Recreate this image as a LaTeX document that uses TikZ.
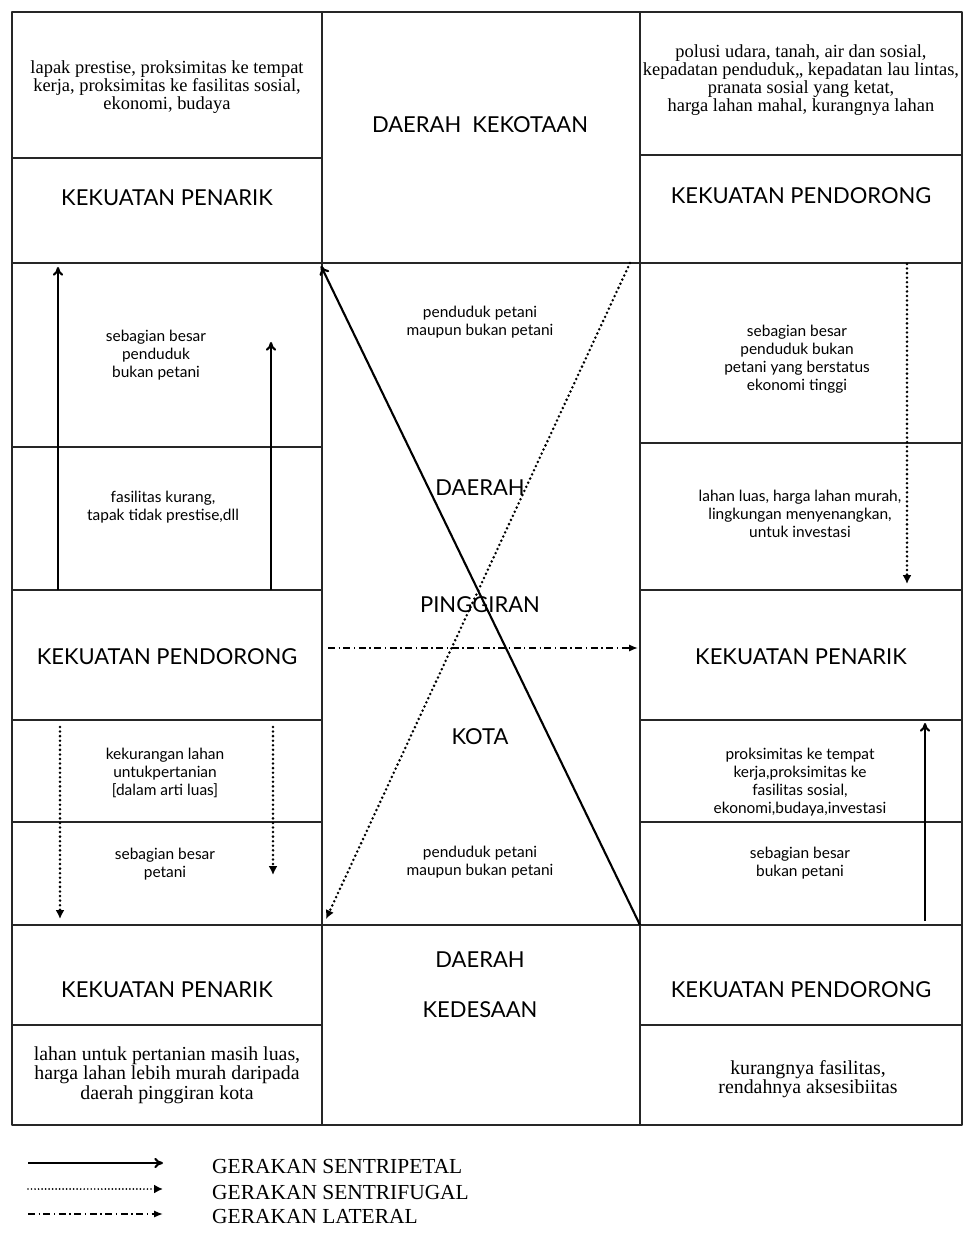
\documentclass[tikz,border=0pt]{standalone}
\usepackage{fontspec}
\setmainfont{Liberation Serif}
\setsansfont{Lato}
\usetikzlibrary{arrows.meta}

\tikzset{
  box/.style={line width=1pt,draw=black!85},
  kop/.style={font=\sffamily\fontsize{12.5}{14}\selectfont,align=center},
  isi/.style={font=\sffamily\fontsize{8.8}{10.2}\selectfont,align=center},
  ket/.style={font=\fontsize{10.5}{10.2}\selectfont,align=center},
  ketbawah/.style={font=\fontsize{11.3}{11}\selectfont,align=center},
  leg/.style={font=\fontsize{12.2}{13}\selectfont,anchor=west},
  sentripetal/.style={line width=1.2pt,-{To[length=5pt,width=6pt]}},
  sentrifugal/.style={line width=1.6pt,dash pattern=on 0pt off 2.6pt,line cap=round,-{Latex[length=5pt,width=5pt]}},
  lateral/.style={line width=0.9pt,dash pattern=on 4pt off 2pt on 0.8pt off 2pt,-{Latex[length=5pt,width=4pt]}}
}

\begin{document}
\begin{tikzpicture}[x=0.02cm,y=-0.02cm,line join=round]
    \useasboundingbox (0,0) rectangle (963,1239);
    % kerangka tabel
    \draw[box] (12,12) rectangle (962,1125);
    \draw[box] (322,12)--(322,1125);
    \draw[box] (640,12)--(640,1125);
    \foreach \y in {158,263,447,590,720,822,925,1025}{%
      \draw[box] (12,\y)--(322,\y);
    }
    \foreach \y in {155,263,443,590,720,822,925,1025}{%
      \draw[box] (640,\y)--(962,\y);
    }
    \draw[box] (322,263)--(640,263);
    \draw[box] (322,925)--(640,925);

    % kolom kiri
    \node[ket] (lapak) at (167,87) {lapak prestise, proksimitas ke tempat\\kerja, proksimitas ke fasilitas sosial,\\ekonomi, budaya};
    \node[kop] (penarikA) at (167,198) {KEKUATAN PENARIK};
    \node[isi] (bukantani) at (156,355) {sebagian besar\\penduduk\\bukan petani};
    \node[isi] (fasilitas) at (163,507) {fasilitas kurang,\\tapak tidak prestise,dll};
    \node[kop] (pendorongA) at (167,657) {KEKUATAN PENDORONG};
    \node[isi] (kurang) at (165,773) {kekurangan lahan\\untukpertanian\\{[}dalam arti luas{]}};
    \node[isi] (petani) at (165,864) {sebagian besar\\petani};
    \node[kop] (penarikB) at (167,990) {KEKUATAN PENARIK};
    \node[ketbawah] (lahan) at (167,1075) {lahan untuk pertanian masih luas,\\harga lahan lebih murah daripada\\daerah pinggiran kota};

    % kolom tengah
    \node[kop] (kekotaan) at (480,125) {DAERAH\enspace KEKOTAAN};
    \node[isi] (campurA) at (480,322) {penduduk petani\\maupun bukan petani};
    \node[kop] (daerah) at (480,488) {DAERAH};
    \node[kop] (pinggiran) at (480,605) {PINGGIRAN};
    \node[kop] (kota) at (480,737) {KOTA};
    \node[isi] (campurB) at (480,862) {penduduk petani\\maupun bukan petani};
    \node[kop] (desaA) at (480,960) {DAERAH};
    \node[kop] (desaB) at (480,1010) {KEDESAAN};

    % kolom kanan
    \node[ket] (polusi) at (801,80) {polusi udara, tanah, air dan sosial,\\kepadatan penduduk,, kepadatan lau lintas,\\pranata sosial yang ketat,\\harga lahan mahal, kurangnya lahan};
    \node[kop] (pendorongB) at (801,196) {KEKUATAN PENDORONG};
    \node[isi] (tinggi) at (797,359) {sebagian besar\\penduduk bukan\\petani yang berstatus\\ekonomi tinggi};
    \node[isi] (luas) at (800,514) {lahan luas, harga lahan murah,\\lingkungan menyenangkan,\\untuk investasi};
    \node[kop] (penarikC) at (801,657) {KEKUATAN PENARIK};
    \node[isi] (proksimitas) at (800,782) {proksimitas ke tempat\\kerja,proksimitas ke\\fasilitas sosial,\\ekonomi,budaya,investasi};
    \node[isi] (bukanpetani) at (800,863) {sebagian besar\\bukan petani};
    \node[kop] (pendorongC) at (801,990) {KEKUATAN PENDORONG};
    \node[ketbawah] (akses) at (808,1079) {kurangnya fasilitas,\\rendahnya aksesibiitas};

    % titik ujung gerakan
    \coordinate (kiriA0) at (58,590);   \coordinate (kiriA1) at (58,267);
    \coordinate (kiriB0) at (271,590);  \coordinate (kiriB1) at (271,342);
    \coordinate (kiriC0) at (60,727);   \coordinate (kiriC1) at (60,919);
    \coordinate (kiriD0) at (273,727);  \coordinate (kiriD1) at (273,875);
    \coordinate (kananA0) at (907,264); \coordinate (kananA1) at (907,584);
    \coordinate (kananB0) at (925,921); \coordinate (kananB1) at (925,723);
    \coordinate (desa) at (640,925);    \coordinate (kotaujung) at (321,266);
    \coordinate (atas) at (630,263);    \coordinate (bawah) at (326,919);
    \coordinate (lat0) at (328,648);    \coordinate (lat1) at (638,648);

    \draw[sentripetal] (kiriA0)--(kiriA1);
    \draw[sentripetal] (kiriB0)--(kiriB1);
    \draw[sentrifugal] (kiriC0)--(kiriC1);
    \draw[sentrifugal] (kiriD0)--(kiriD1);
    \draw[sentrifugal] (kananA0)--(kananA1);
    \draw[sentripetal] (kananB0)--(kananB1);
    \draw[sentripetal] (desa)--(kotaujung);
    \draw[sentrifugal] (atas)--(bawah);
    \draw[lateral] (lat0)--(lat1);

    % keterangan
    \foreach \n/\y in {1/1163,2/1189,3/1214}{%
      \coordinate (legA\n) at (28,\y);
      \coordinate (legB\n) at (163,\y);
    }
    \draw[sentripetal] (legA1)--(legB1);
    \draw[sentrifugal,line width=1.1pt,dash pattern=on 0pt off 2pt] (legA2)--(legB2);
    \draw[lateral] (legA3)--(legB3);
    \node[leg] (sentripetal) at (206,1166) {GERAKAN SENTRIPETAL};
    \node[leg] (sentrifugal) at (206,1192) {GERAKAN SENTRIFUGAL};
    \node[leg] (lateral) at (206,1216) {GERAKAN LATERAL};
\end{tikzpicture}
\end{document}
